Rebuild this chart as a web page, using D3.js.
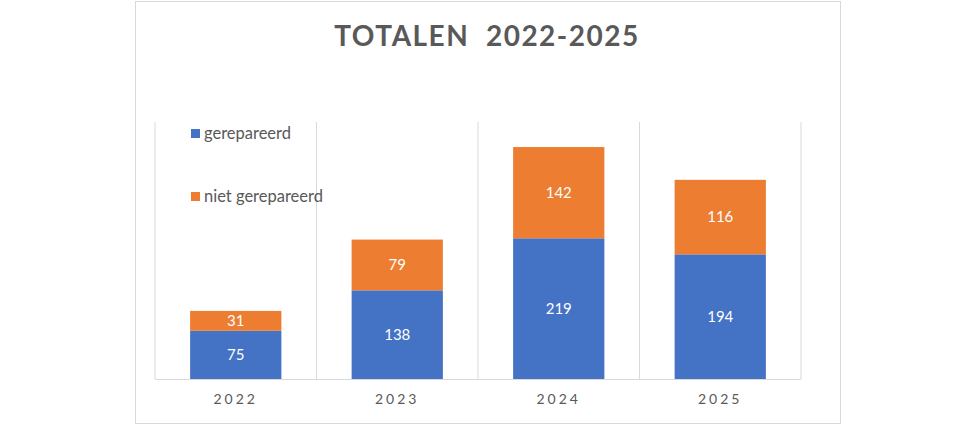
<!DOCTYPE html>
<html>
<head>
<meta charset="utf-8">
<script src="https://cdn.jsdelivr.net/npm/d3@7"></script>
<style>
  body { margin: 0; background: #fff; }
  text { font-family: Lato, "Open Sans", sans-serif; }
</style>
</head>
<body>
<div id="chart"></div>
<script>
// Data
const years = ["2022", "2023", "2024", "2025"];
const gerepareerd = [75, 138, 219, 194];
const nietGerepareerd = [31, 79, 142, 116];
const seriesNames = ["gerepareerd", "niet gerepareerd"];
const colors = ["#4472C4", "#ED7D31"];

const width = 975, height = 425;

const svg = d3.select("#chart")
  .append("svg")
  .attr("width", width)
  .attr("height", height);

// Outer chart border
svg.append("rect")
  .attr("x", 135.5).attr("y", 1.5)
  .attr("width", 705).attr("height", 422)
  .attr("fill", "#fff")
  .attr("stroke", "#d9d9d9");

// Title
svg.append("text")
  .attr("x", 487)
  .attr("y", 46)
  .attr("text-anchor", "middle")
  .style("font-size", "28px")
  .style("font-weight", "bold")
  .style("letter-spacing", "1.5px")
  .style("white-space", "pre")
  .attr("fill", "#595959")
  .text("TOTALEN  2022-2025");

// Scales
const x = d3.scaleBand()
  .domain(years)
  .range([155, 801])
  .paddingInner(0.435)
  .paddingOuter(0.2175);

const y = d3.scaleLinear()
  .domain([0, 400])
  .range([379, 122]);

// Vertical gridlines at category boundaries
const bounds = years.map((d, i) => 155 + i * (646 / years.length)).concat([801]);
svg.append("g")
  .selectAll("line")
  .data(bounds)
  .enter()
  .append("line")
  .attr("x1", d => d).attr("x2", d => d)
  .attr("y1", y(400)).attr("y2", y(0))
  .attr("stroke", "#d9d9d9")
  .attr("stroke-width", 1);

// Stack the data
const table = years.map((yr, i) => ({
  year: yr,
  "gerepareerd": gerepareerd[i],
  "niet gerepareerd": nietGerepareerd[i]
}));
const stacked = d3.stack().keys(seriesNames)(table);

const groups = svg.selectAll("g.series")
  .data(stacked)
  .enter()
  .append("g")
  .attr("class", "series")
  .attr("fill", (d, i) => colors[i]);

groups.selectAll("rect")
  .data(d => d)
  .enter()
  .append("rect")
  .attr("x", d => x(d.data.year))
  .attr("y", d => y(d[1]))
  .attr("width", x.bandwidth())
  .attr("height", d => y(d[0]) - y(d[1]));

// Data labels
groups.selectAll("text")
  .data(d => d)
  .enter()
  .append("text")
  .attr("x", d => x(d.data.year) + x.bandwidth() / 2)
  .attr("y", d => (y(d[0]) + y(d[1])) / 2)
  .attr("dy", "0.35em")
  .attr("text-anchor", "middle")
  .attr("fill", "#fff")
  .style("font-size", "15px")
  .text(d => d[1] - d[0]);

// Axis line
svg.append("line")
  .attr("x1", 155).attr("x2", 801)
  .attr("y1", y(0) + 0.5).attr("y2", y(0) + 0.5)
  .attr("stroke", "#d9d9d9");

// Year labels
svg.append("g")
  .selectAll("text")
  .data(years)
  .enter()
  .append("text")
  .attr("x", d => x(d) + x.bandwidth() / 2)
  .attr("y", 404)
  .attr("text-anchor", "middle")
  .attr("fill", "#595959")
  .style("font-size", "14px")
  .style("letter-spacing", "3px")
  .text(d => d);

// Legend
const legend = svg.append("g");
seriesNames.forEach((name, i) => {
  legend.append("rect")
    .attr("x", 191)
    .attr("y", 129 + i * 63)
    .attr("width", 9)
    .attr("height", 9)
    .attr("fill", colors[i]);
  legend.append("text")
    .attr("x", 204)
    .attr("y", 139 + i * 63)
    .attr("fill", "#595959")
    .style("font-size", "16.5px")
    .text(name);
});
</script>
</body>
</html>
